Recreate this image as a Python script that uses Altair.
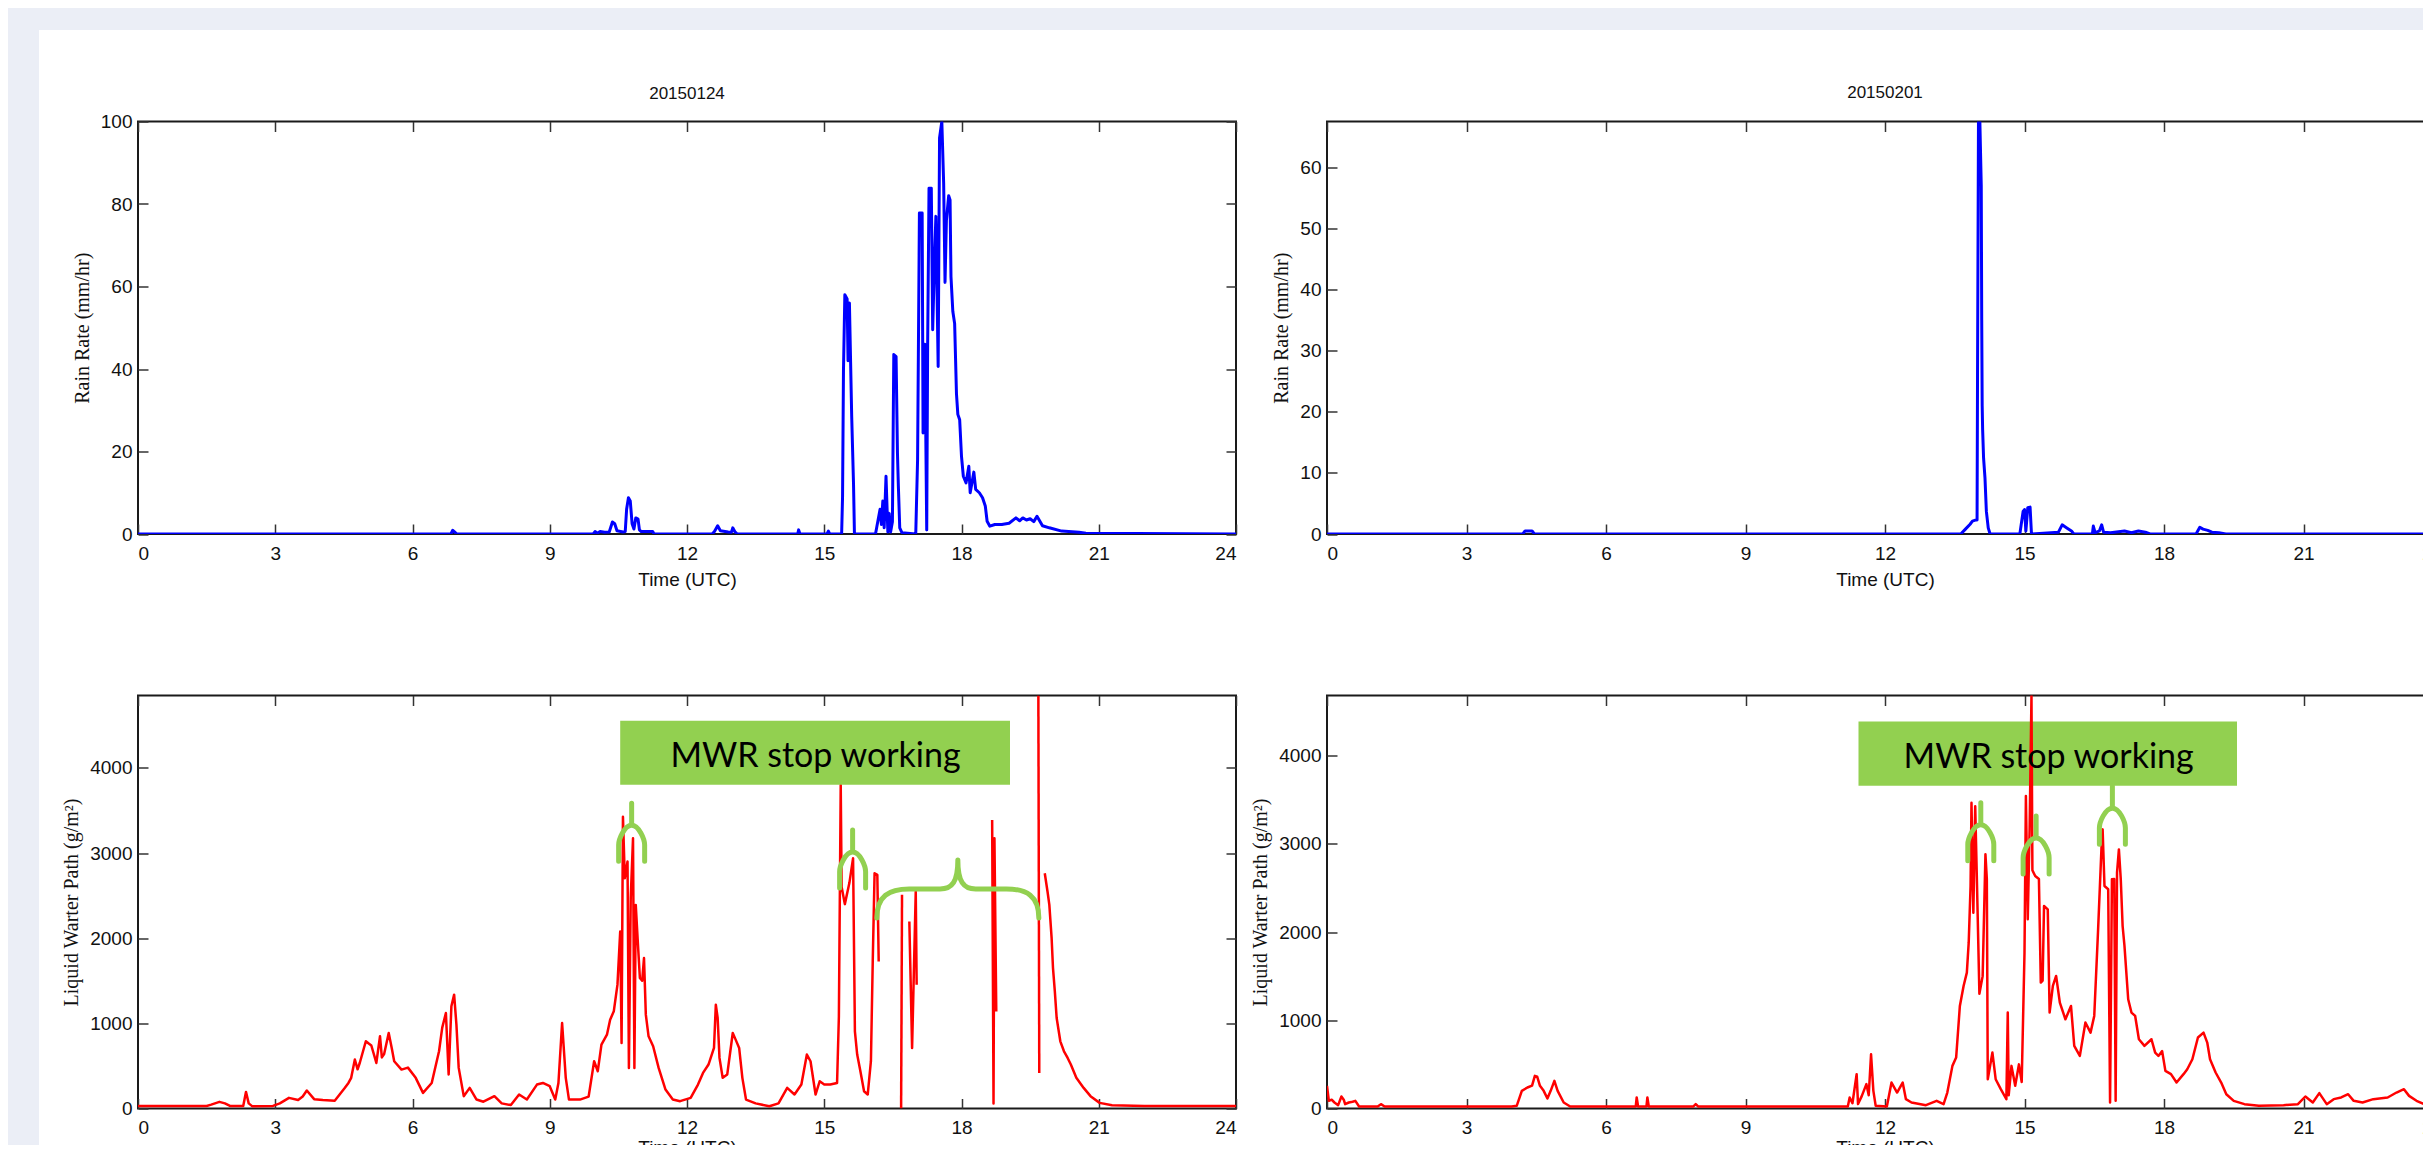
import altair as alt
import pandas as pd

# ------------------------------------------------------------------ data
XTICKS = [0, 3, 6, 9, 12, 15, 18, 21, 24]
RAIN1_YTICKS = [0, 20, 40, 60, 80, 100]
RAIN2_YTICKS = [0, 10, 20, 30, 40, 50, 60]
LWP_YTICKS = [0, 1000, 2000, 3000, 4000]

# Rain rate 20150124 (hours UTC, mm/hr)
RAIN1_T = [0, 6.84, 6.88, 6.93, 6.97, 9.95, 9.99, 10.04, 10.10, 10.20,
           10.30, 10.33, 10.37, 10.42, 10.47, 10.60, 10.65, 10.68, 10.72, 10.76,
           10.80, 10.84, 10.88, 10.93, 10.96, 11.00, 11.25, 11.28, 12.55, 12.60,
           12.67, 12.73, 12.90, 12.97, 13.00, 13.05, 13.10, 14.42, 14.44, 14.47,
           15.06, 15.09, 15.12, 15.38, 15.40, 15.42, 15.45, 15.50, 15.52, 15.55,
           15.60, 15.64, 15.66, 16.12, 16.22, 16.25, 16.28, 16.31, 16.35, 16.39,
           16.42, 16.45, 16.49, 16.52, 16.57, 16.60, 16.62, 16.65, 16.70, 17.00,
           17.04, 17.08, 17.14, 17.16, 17.20, 17.24, 17.26, 17.29, 17.34, 17.37,
           17.41, 17.44, 17.49, 17.52, 17.57, 17.61, 17.64, 17.67, 17.72, 17.75,
           17.77, 17.81, 17.85, 17.89, 17.92, 17.96, 18.00, 18.04, 18.10, 18.16,
           18.19, 18.27, 18.31, 18.39, 18.46, 18.52, 18.56, 18.62, 18.73, 18.88,
           19.04, 19.19, 19.27, 19.34, 19.42, 19.50, 19.58, 19.65, 19.77, 19.92,
           20.19, 20.57, 20.72, 24]
RAIN1_V = [0, 0, 0.9, 0.4, 0, 0, 0.6, 0.2, 0.6, 0.4,
           0.5, 1.5, 2.9, 2.5, 0.8, 0.5, 0.6, 6.0, 8.8, 8.0,
           2.5, 1.2, 3.9, 3.6, 1.0, 0.6, 0.6, 0, 0, 0.6,
           2.0, 0.8, 0.5, 0.4, 1.5, 0.5, 0, 0, 1.0, 0,
           0, 0.7, 0, 0, 9, 39.5, 58, 57, 42, 56,
           28.5, 12, 0, 0, 6, 2.3, 8, 1.5, 14, 0.5,
           5, 0.5, 3, 43.5, 43, 19.7, 11.6, 1.5, 0.3, 0,
           18, 77.8, 77.8, 24.5, 46, 1, 45.5, 83.8, 83.8, 49.5,
           66.5, 77, 40.6, 96, 100, 85, 61, 76, 82, 81,
           62.4, 54, 51, 34, 29, 27.7, 18.8, 14, 12.4, 16.4,
           10, 15, 10.8, 10, 8.8, 6.8, 3.1, 1.9, 2.3, 2.3,
           2.6, 3.9, 3.2, 3.9, 3.4, 3.7, 3.0, 4.3, 2.0, 1.5,
           0.7, 0.4, 0.2, 0]

# Rain rate 20150201
RAIN2_T = [0, 4.21, 4.26, 4.41, 4.46, 13.63, 13.73, 13.83, 13.88, 13.96,
           13.98, 13.99, 14.01, 14.04, 14.07, 14.08, 14.09, 14.10, 14.12, 14.15,
           14.18, 14.22, 14.26, 14.90, 14.97, 15.00, 15.03, 15.07, 15.12, 15.15,
           15.73, 15.81, 15.91, 16.01, 16.06, 16.46, 16.48, 16.52, 16.61, 16.66,
           16.70, 16.85, 17.15, 17.30, 17.45, 17.60, 17.70, 18.69, 18.77, 18.84,
           18.94, 19.03, 19.18, 19.33, 24]
RAIN2_V = [0, 0, 0.5, 0.5, 0, 0, 0.8, 1.6, 2.1, 2.3,
           2.3, 26, 67.5, 67.5, 57, 35, 21, 17, 12.4, 9.2,
           3.7, 1.0, 0, 0, 3.7, 4.0, 0.5, 4.3, 4.4, 0,
           0.3, 1.5, 1.0, 0.5, 0, 0, 1.3, 0.2, 0.5, 1.5,
           0.3, 0.2, 0.5, 0.2, 0.5, 0.3, 0, 0, 1.1, 0.8,
           0.6, 0.3, 0.2, 0, 0]

# Liquid water path 20150124 (g/m2); None = gap in record
LWP1_T = [0, 1.5, 1.6, 1.78, 1.9, 2.01, 2.3, 2.36, 2.42, 2.5,
          2.95, 3.1, 3.3, 3.5, 3.6, 3.69, 3.85, 4.04, 4.3, 4.51,
          4.6, 4.66, 4.74, 4.8, 4.85, 4.98, 5.05, 5.1, 5.21, 5.29,
          5.33, 5.38, 5.48, 5.55, 5.6, 5.76, 5.9, 6.07, 6.23, 6.42,
          6.58, 6.65, 6.73, 6.79, 6.85, 6.91, 6.96, 7.01, 7.12, 7.25,
          7.4, 7.55, 7.79, 7.95, 8.15, 8.33, 8.5, 8.72, 8.85, 9.0,
          9.12, 9.19, 9.27, 9.35, 9.42, 9.66, 9.85, 9.97, 10.05, 10.13,
          10.25, 10.32, 10.4, 10.48, 10.54, 10.57, 10.6, 10.64, 10.7, 10.73,
          10.77, 10.82, 10.85, 10.88, 10.92, 10.97, 11.02, 11.06, 11.1, 11.16,
          11.26, 11.38, 11.53, 11.69, 11.85, 12.08, 12.24, 12.35, 12.47, 12.59,
          12.63, 12.67, 12.71, 12.78, 12.88, 13.0, 13.07, 13.14, 13.21, 13.29,
          13.5, 13.8, 14.0, 14.19, 14.35, 14.5, 14.62, 14.7, 14.81, 14.9,
          15.0, 15.13, 15.28, 15.32, 15.36, 15.38, 15.45, 15.55, 15.63, 15.67,
          15.72, 15.79, 15.87, 15.95, 16.02, 16.06, 16.1, 16.16, 16.19, None,
          16.68, 16.7, None, 16.86, 16.92, 17.0, 17.02, None, 18.67, 18.7,
          18.72, 18.76, None, 19.68, 19.7, None, 19.82, 19.88, 19.92, 19.97,
          20.0, 20.04, 20.08, 20.16, 20.24, 20.32, 20.39, 20.51, 20.67, 20.82,
          21.02, 21.29, 22, 24]
LWP1_V = [30, 30, 45, 78, 60, 30, 30, 195, 60, 25,
          30, 60, 125, 100, 140, 211, 110, 100, 90, 234,
          300, 360, 575, 460, 540, 790, 760, 740, 535, 848,
          600, 640, 887, 700, 555, 457, 480, 360, 184, 300,
          672, 950, 1121, 400, 1200, 1337, 985, 477, 145, 242,
          105, 80, 145, 60, 40, 164, 105, 281, 300, 262,
          105, 300, 1004, 360, 105, 105, 140, 555, 438, 750,
          867, 1043, 1141, 1454, 2079, 770, 3427, 2704, 2900, 477,
          2470, 3173, 477, 2391, 2000, 1532, 1500, 1766, 1102, 848,
          731, 477, 223, 105, 86, 125, 281, 418, 516, 711,
          1219, 1063, 594, 360, 400, 887, 800, 711, 360, 105,
          60, 27, 60, 242, 164, 281, 633, 555, 164, 320,
          281, 281, 300, 1083, 3800, 2600, 2400, 2650, 2939, 907,
          633, 438, 203, 164, 555, 1727, 2763, 2743, 1727, None,
          0, 2509, None, 2196, 711, 2548, 1454, None, 3388, 60,
          3173, 1140, None, 4850, 418, None, 2763, 2548, 2391, 2000,
          1649, 1376, 1063, 789, 672, 594, 516, 360, 242, 145,
          66, 39, 30, 30]

# Liquid water path 20150201
LWP2_T = [0, 0.04, 0.10, 0.16, 0.24, 0.31, 0.36, 0.39, 0.47, 0.55,
          0.61, 0.69, 1.09, 1.16, 1.24, 3.97, 4.08, 4.19, 4.31, 4.41,
          4.47, 4.52, 4.58, 4.66, 4.74, 4.81, 4.89, 4.96, 5.09, 5.23,
          6.64, 6.66, 6.69, 6.87, 6.89, 6.92, 7.88, 7.93, 7.98, 11.20,
          11.24, 11.30, 11.39, 11.42, 11.50, 11.60, 11.65, 11.70, 11.75, 11.80,
          12.04, 12.14, 12.26, 12.38, 12.45, 12.57, 12.88, 13.11, 13.26, 13.34,
          13.45, 13.53, 13.61, 13.69, 13.76, 13.80, 13.84, 13.86, 13.90, 13.94,
          13.98, 14.03, 14.10, 14.16, 14.19, 14.21, 14.31, 14.38, 14.49, 14.61,
          14.64, 14.66, 14.72, 14.80, 14.88, 14.94, 15.00, 15.03, 15.07, 15.11,
          15.15, 15.17, 15.23, 15.31, 15.35, 15.39, 15.42, 15.50, 15.54, 15.61,
          15.68, 15.76, 15.88, 16.00, 16.07, 16.19, 16.31, 16.42, 16.50, 16.58,
          16.66, 16.68, 16.72, 16.80, 16.84, 16.88, 16.93, 16.96, 16.99, 17.03,
          17.07, 17.11, 17.15, 17.23, 17.30, 17.38, 17.46, 17.58, 17.73, 17.81,
          17.88, 17.96, 18.03, 18.15, 18.27, 18.42, 18.50, 18.61, 18.73, 18.85,
          18.93, 18.99, 19.11, 19.23, 19.34, 19.50, 19.73, 20.04, 20.57, 20.88,
          21.04, 21.20, 21.34, 21.50, 21.65, 21.81, 21.96, 22.08, 22.27, 22.50,
          22.81, 23.00, 23.16, 23.27, 23.43, 23.65, 23.79, 24.0]
LWP2_V = [257, 87, 100, 68, 38, 136, 100, 49, 68, 76,
          87, 23, 23, 49, 23, 23, 30, 200, 238, 260,
          370, 360, 257, 200, 113, 200, 313, 200, 68, 23,
          23, 125, 23, 23, 125, 23, 23, 50, 23, 23,
          125, 60, 389, 50, 140, 276, 150, 615, 200, 30,
          23, 294, 181, 294, 106, 68, 38, 87, 49, 181,
          483, 577, 1162, 1389, 1540, 1879, 2521, 3464, 2219, 3426,
          2500, 1300, 1500, 2880, 2600, 332, 634, 332, 219, 106,
          1087, 150, 483, 257, 500, 300, 1766, 3540, 2144, 3163,
          4680, 2700, 2634, 2600, 1427, 1450, 2295, 2257, 1087, 1389,
          1502, 1200, 1011, 1162, 710, 596, 974, 860, 1049, 1993,
          3012, 3163, 2521, 2484, 68, 2597, 2600, 87, 2672, 2936,
          2600, 2068, 1842, 1238, 1087, 1049, 785, 710, 785, 634,
          596, 650, 426, 389, 294, 389, 445, 558, 804, 860,
          747, 558, 408, 294, 162, 87, 49, 30, 38, 49,
          136, 68, 174, 49, 106, 125, 162, 87, 68, 106,
          125, 181, 219, 143, 87, 38, 10, 5]

# annotations (data coordinates)
NOTE_TEXT = "MWR stop working"
BOX1 = {"t0": 10.54, "t1": 19.06, "v0": 3802, "v1": 4554, "tt": 14.81, "tv": 4013}
BOX2 = {"t0": 11.43, "t1": 19.57, "v0": 3657, "v1": 4384, "tt": 15.52, "tv": 3861}
BRACES1 = [(10.79, 3584, "small"), (15.62, 3271, "small"), (17.92, 2919, "big")]
BRACES2 = [(14.06, 3464, "small"), (15.25, 3314, "small"), (16.89, 3653, "small")]

# ------------------------------------------------------------------ styles
GRAY = "#EBEEF6"
GREEN = "#92D050"
BLUE = "#0000FF"
RED = "#FF0000"
SANS = "Liberation Sans"
SERIF = "Liberation Serif"


def brace_path(kind):
    if kind == "small":
        a, h = 13, 58
        s, k = 22, 41.8
        return (f"M 0 0 L 0 {s} M {-a} {h} L {-a} {k} C {-a} {s + 14} {-0.55 * a:.1f} {s} 0 {s} "
                f"C {0.55 * a:.1f} {s} {a} {s + 14} {a} {k} L {a} {h}")
    a, h = 81, 58
    s = 29
    return (f"M {-a} {h} C {-a} {0.62 * h:.1f} {-0.85 * a:.1f} {s} {-0.6 * a:.1f} {s} "
            f"L {-0.22 * a:.1f} {s} C {-0.07 * a:.1f} {s} 0 {0.75 * s:.1f} 0 0 "
            f"M {a} {h} C {a} {0.62 * h:.1f} {0.85 * a:.1f} {s} {0.6 * a:.1f} {s} "
            f"L {0.22 * a:.1f} {s} C {0.07 * a:.1f} {s} 0 {0.75 * s:.1f} 0 0")


def to_df(ts, vs):
    rows, seg = [], 0
    for t, v in zip(ts, vs):
        if t is None or v is None:
            seg += 1
            continue
        rows.append({"t": t, "v": v, "seg": seg})
    return pd.DataFrame(rows)


def panel(ts, vs, color, sw, ydom, yticks, ytitle, width, height,
          title=None, title_offset=16, xtitle_pad=7,
          box=None, braces=(), line_over_box=False):
    df = to_df(ts, vs)
    xs = alt.Scale(domain=[0, 24], nice=False, zero=False)
    ys = alt.Scale(domain=ydom, nice=False, zero=False)
    xax = alt.Axis(orient="bottom", values=XTICKS, format="d", title="Time (UTC)",
                   offset=-10, tickSize=10, domain=False, grid=False,
                   labelPadding=10, titlePadding=xtitle_pad)
    yax = alt.Axis(orient="left", values=yticks, format="d", title=ytitle,
                   offset=-10, tickSize=10, domain=False, grid=False,
                   labelPadding=6, titlePadding=8, titleFont=SERIF, titleFontSize=20)
    line = alt.Chart(df).mark_line(color=color, strokeWidth=sw, clip=True,
                                   strokeJoin="round").encode(
        x=alt.X("t:Q", scale=xs, axis=xax),
        y=alt.Y("v:Q", scale=ys, axis=yax),
        detail="seg:N")
    ghost = alt.Chart(df).mark_line(opacity=0).encode(
        x=alt.X("t:Q", scale=xs, axis=alt.Axis(orient="top", values=XTICKS, labels=False,
                                               title="", offset=-10, tickSize=10,
                                               domain=False, grid=False)),
        y=alt.Y("v:Q", scale=ys, axis=alt.Axis(orient="right", values=yticks, labels=False,
                                               title="", offset=-10, tickSize=10,
                                               domain=False, grid=False)),
        detail="seg:N")
    layers = [line, ghost]
    if box is not None:
        bdf = pd.DataFrame([dict(box, label=NOTE_TEXT)])
        rect = alt.Chart(bdf).mark_rect(color=GREEN, opacity=1).encode(
            x=alt.X("t0:Q", scale=xs, axis=None), x2="t1:Q",
            y=alt.Y("v0:Q", scale=ys, axis=None), y2="v1:Q")
        text = alt.Chart(bdf).mark_text(font="Lato", fontSize=34, color="#000000",
                                        align="center", baseline="alphabetic").encode(
            x=alt.X("tt:Q", scale=xs, axis=None),
            y=alt.Y("tv:Q", scale=ys, axis=None),
            text="label:N")
        br_layers = []
        for bt, bv, kind in braces:
            bd = pd.DataFrame([{"t": bt, "v": bv}])
            br_layers.append(
                alt.Chart(bd).mark_point(shape=brace_path(kind), size=4, filled=False,
                                         strokeWidth=5, color=GREEN, opacity=1,
                                         strokeCap="round").encode(
                    x=alt.X("t:Q", scale=xs, axis=None),
                    y=alt.Y("v:Q", scale=ys, axis=None)))
        if line_over_box:
            layers = [rect, line, ghost, text] + br_layers
        else:
            layers = [line, ghost, rect, text] + br_layers
    ch = alt.layer(*layers).resolve_scale(x="shared", y="shared").resolve_axis(
        x="independent", y="independent")
    props = dict(width=width, height=height)
    if title:
        props["title"] = alt.TitleParams(text=title, frame="group", offset=title_offset)
    return ch.properties(**props)


def blank(w, h, fill):
    return alt.Chart(pd.DataFrame({"a": [0]})).mark_point(opacity=0).encode(
        x=alt.value(0), y=alt.value(0)
    ).properties(width=w, height=h,
                 view=alt.ViewBackground(fill=fill, stroke="transparent", strokeWidth=0))


tl = panel(RAIN1_T, RAIN1_V, BLUE, 3, [0, 100], RAIN1_YTICKS, "Rain Rate (mm/hr)",
           1098, 412.5, title="20150124", title_offset=9.5)
tr = panel(RAIN2_T, RAIN2_V, BLUE, 3, [0, 67.5], RAIN2_YTICKS, "Rain Rate (mm/hr)",
           1116, 412.5, title="20150201", title_offset=19)
bl = panel(LWP1_T, LWP1_V, RED, 2.5, [0, 4850], LWP_YTICKS, "Liquid Warter Path (g/m²)",
           1098, 413, xtitle_pad=1, box=BOX1, braces=BRACES1)
br = panel(LWP2_T, LWP2_V, RED, 2.5, [0, 4680], LWP_YTICKS, "Liquid Warter Path (g/m²)",
           1116, 413, xtitle_pad=1, box=BOX2, braces=BRACES2, line_over_box=True)

grid = alt.concat(tl, tr, bl, br, columns=2,
                  spacing={"row": 161, "column": 91}, bounds="flush")
col = alt.vconcat(blank(1, 1, "transparent"), grid, spacing=90.5, bounds="flush")
row = alt.hconcat(blank(31, 1129, GRAY), col, spacing=99, bounds="flush")
chart = alt.vconcat(blank(2423, 22, GRAY), row, spacing=0, bounds="flush").properties(
    autosize=alt.AutoSizeParams(type="none"),
    padding={"left": 0, "top": 0, "right": 2415, "bottom": 1137}
).configure_view(
    stroke="#1a1a1a", strokeWidth=2
).configure_axis(
    labelFont=SANS, labelFontSize=19, labelColor="#111111",
    titleFont=SANS, titleFontSize=19, titleColor="#111111", titleFontWeight="normal",
    tickColor="#333333", tickWidth=1.5
).configure_title(
    font=SANS, fontSize=17, fontWeight="normal", color="#111111"
)

chart.save("out.html", embed_options={"renderer": "svg", "actions": False})
